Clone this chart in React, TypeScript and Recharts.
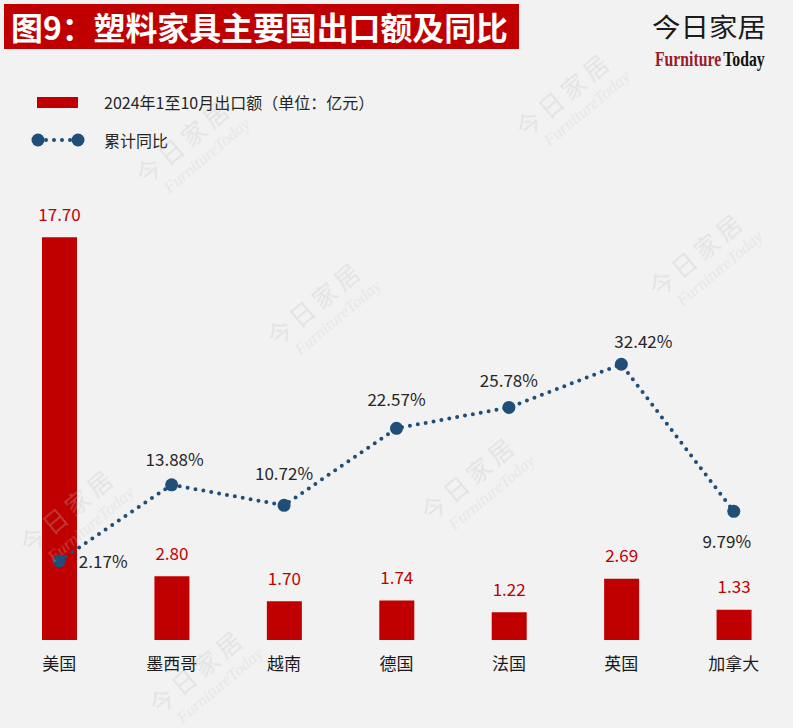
import { ComposedChart, Bar, Line, XAxis, YAxis, LabelList } from "recharts"

const TITLE = "图9：塑料家具主要国出口额及同比"
const COUNTRIES = ["美国", "墨西哥", "越南", "德国", "法国", "英国", "加拿大"]
const EXPORTS = [17.7, 2.8, 1.7, 1.74, 1.22, 2.69, 1.33]
const YOY = [2.17, 13.88, 10.72, 22.57, 25.78, 32.42, 9.79]
const BAR_NAME = "2024年1至10月出口额（单位：亿元）"
const LINE_NAME = "累计同比"

// label nudges for the % labels, as in the original
const YOY_LABEL_OFFSET = [
  [44, 0], [3, -26], [0, -33], [0, -30], [0, -28], [22, -24], [-7, 29],
]

const WATERMARKS = [
  [190, 148], [570, 101], [321, 310], [703, 261], [475, 485], [203, 678], [74, 517],
]

const data = COUNTRIES.map((name, i) => ({ name, exports: EXPORTS[i], yoy: YOY[i] }))

const RED = "#c00000"
const BLUE = "#1f4e79"
const FONT = "'Noto Sans CJK SC', 'Noto Sans', sans-serif"
const SERIF = "'Liberation Serif', serif"

const CategoryTick = ({ x, y, payload }: any) => (
  <text x={x} y={y + 22} textAnchor="middle" dominantBaseline="central" fontSize={17} fill="#1a1a1a">
    {payload.value}
  </text>
)

const BarValue = ({ x, y, width, value }: any) => (
  <text x={x + width / 2} y={y - 24} textAnchor="middle" dominantBaseline="central" fontSize={17} fill={RED}>
    {Number(value).toFixed(2)}
  </text>
)

const YoyValue = (props: any) => {
  const { x, y, value } = props
  const i = props.index ?? YOY.indexOf(value)
  const [dx, dy] = YOY_LABEL_OFFSET[i] ?? [0, -28]
  return (
    <text x={x + dx} y={y + dy} textAnchor="middle" dominantBaseline="central" fontSize={17} fill="#262626">
      {Number(value).toFixed(2)}%
    </text>
  )
}

export default function App() {
  return (
    <div style={{ position: "fixed", top: 0, left: 0, width: 793, height: 728, background: "#f2f2f2", fontFamily: FONT }}>
      <div style={{ position: "absolute", top: 0, left: 0 }}>
        <ComposedChart width={793} height={728} data={data} margin={{ top: 185, right: 3, bottom: 58, left: 3 }}>
          <XAxis
            dataKey="name"
            axisLine={false}
            tickLine={false}
            tickSize={0}
            tickMargin={0}
            height={30}
            interval={0}
            tick={<CategoryTick />}
          />
          <YAxis yAxisId="amt" hide domain={[0, 20]} />
          <YAxis yAxisId="pct" hide domain={[-10, 60]} />
          <Bar yAxisId="amt" dataKey="exports" fill={RED} barSize={35} isAnimationActive={false}>
            <LabelList dataKey="exports" content={<BarValue />} />
          </Bar>
          <Line
            yAxisId="pct"
            dataKey="yoy"
            stroke={BLUE}
            strokeWidth={4}
            strokeDasharray="0 8"
            strokeLinecap="round"
            dot={{ r: 6.5, fill: BLUE, stroke: BLUE, strokeWidth: 0, strokeDasharray: "" }}
            activeDot={false}
            isAnimationActive={false}
          >
            <LabelList dataKey="yoy" content={<YoyValue />} />
          </Line>
        </ComposedChart>
      </div>

      <svg width={793} height={728} style={{ position: "absolute", top: 0, left: 0, pointerEvents: "none" }}>
        <rect x={4} y={4} width={515} height={45} fill={RED} />
        <text x={11} y={26} dominantBaseline="central" fontSize={32} fontWeight={700} fill="#fff"
          textLength={497} lengthAdjust="spacingAndGlyphs">
          {TITLE}
        </text>

        <text x={652} y={25} dominantBaseline="central" fontSize={26} fill="#1a1a1a" textLength={114} lengthAdjust="spacingAndGlyphs">
          今日家居
        </text>
        {/* condensed serif wordmark */}
        <g transform="translate(655,66) scale(0.75,1)">
          <text x={0} y={0} fontSize={21} fontWeight={700} fontFamily={SERIF} fill="#9b1b2a">Furniture</text>
          <text x={91} y={0} fontSize={21} fontWeight={700} fontFamily={SERIF} fill="#111">Today</text>
        </g>

        <rect x={37} y={97} width={41} height={11} fill={RED} />
        <text x={104} y={102} dominantBaseline="central" fontSize={16} fill="#262626">{BAR_NAME}</text>
        <line x1={38} y1={140} x2={78} y2={140} stroke={BLUE} strokeWidth={4} strokeDasharray="0 8" strokeLinecap="round" />
        <circle cx={38} cy={140} r={6.5} fill={BLUE} />
        <circle cx={78} cy={140} r={6.5} fill={BLUE} />
        <text x={104} y={140} dominantBaseline="central" fontSize={16} fill="#262626">{LINE_NAME}</text>

        {/* faint watermark overlay */}
        <g opacity={0.3}>
          {WATERMARKS.map(([cx, cy], i) => (
            <g key={i} transform={`translate(${cx},${cy}) rotate(-40)`}>
              <text textAnchor="middle" fontSize={24} letterSpacing={5} fill="#c0c0c0" fontFamily={FONT}>今日家居</text>
              <text y={22} x={8} textAnchor="middle" fontSize={17} fontStyle="italic" fill="#c8c8c8" fontFamily={SERIF}>
                FurnitureToday
              </text>
            </g>
          ))}
        </g>
      </svg>
    </div>
  )
}
